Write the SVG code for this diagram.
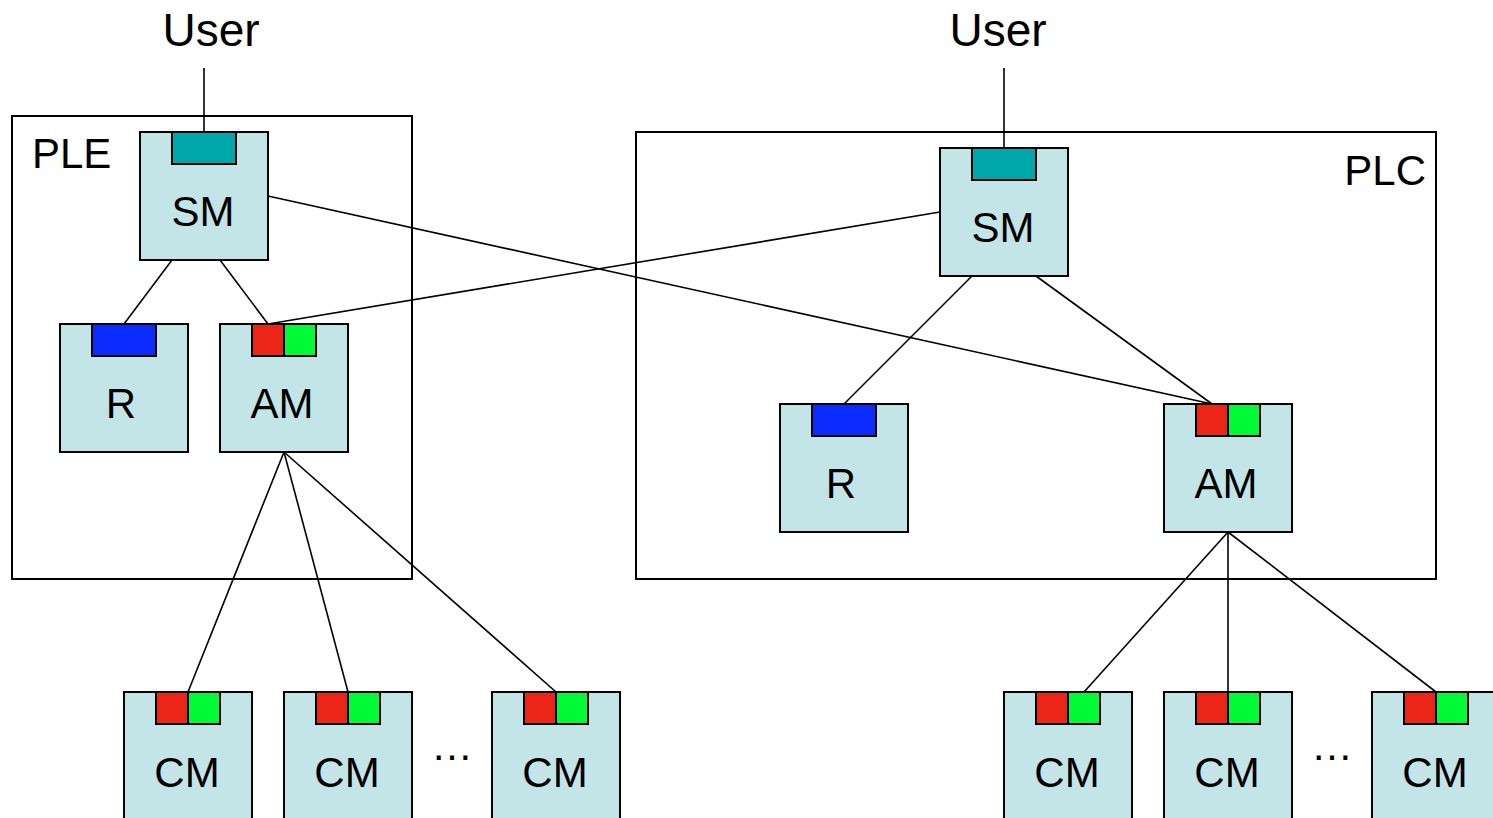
<svg xmlns="http://www.w3.org/2000/svg" width="1493" height="818" viewBox="0 0 1493 818">
<style>
.bg{fill:#ffffff}
.container{fill:none;stroke:#000;stroke-width:2}
.box{fill:#C4E5E7;stroke:#000;stroke-width:2}
.teal{fill:#00A8AA;stroke:#000;stroke-width:2}
.blue{fill:#0C2BFF;stroke:#000;stroke-width:2}
.red{fill:#EC2616;stroke:#000;stroke-width:2}
.green{fill:#00FA36;stroke:#000;stroke-width:2}
.lbl{font-family:"Liberation Sans",Arial,sans-serif;font-size:42px;fill:#000;text-anchor:middle}
.user{font-family:"Liberation Sans",Arial,sans-serif;font-size:46px;fill:#000;text-anchor:middle}
.conn line{stroke:#000;stroke-width:1.6}
</style>
<rect class="bg" x="0" y="0" width="1493" height="818"/>

<g id="PLE">
<rect class="container" x="12" y="116" width="400" height="463"/>
<text class="lbl" x="32" y="168" style="text-anchor:start">PLE</text>
</g>
<g id="PLC">
<rect class="container" x="636" y="132" width="800" height="447"/>
<text class="lbl" x="1426" y="185" style="text-anchor:end">PLC</text>
</g>

<g id="user-left"><text class="user" x="211" y="46">User</text></g>
<g id="user-right"><text class="user" x="998" y="46">User</text></g>

<g id="connectors" class="conn">
<line x1="204" y1="68" x2="204" y2="132"/>
<line x1="1004" y1="68" x2="1004" y2="148"/>
<line x1="172" y1="260" x2="124" y2="324"/>
<line x1="220" y1="260" x2="268" y2="324"/>
<line x1="268" y1="196" x2="1212" y2="404"/>
<line x1="940" y1="212" x2="268" y2="324"/>
<line x1="972" y1="276" x2="844" y2="404"/>
<line x1="1036" y1="276" x2="1212" y2="404"/>
<line x1="284" y1="452" x2="188" y2="692"/>
<line x1="284" y1="452" x2="348" y2="692"/>
<line x1="284" y1="452" x2="556" y2="692"/>
<line x1="1228" y1="532" x2="1084" y2="692"/>
<line x1="1228" y1="532" x2="1228" y2="692"/>
<line x1="1228" y1="532" x2="1436" y2="692"/>
</g>

<g id="SM-left">
<rect class="box" x="140" y="132" width="128" height="128"/>
<rect class="teal" x="172" y="132" width="64" height="32"/>
<text class="lbl" x="203" y="226">SM</text>
</g>
<g id="R-left">
<rect class="box" x="60" y="324" width="128" height="128"/>
<rect class="blue" x="92" y="324" width="64" height="32"/>
<text class="lbl" x="121" y="418">R</text>
</g>
<g id="AM-left">
<rect class="box" x="220" y="324" width="128" height="128"/>
<rect class="red" x="252" y="324" width="32" height="32"/>
<rect class="green" x="284" y="324" width="32" height="32"/>
<text class="lbl" x="282" y="418">AM</text>
</g>

<g id="SM-right">
<rect class="box" x="940" y="148" width="128" height="128"/>
<rect class="teal" x="972" y="148" width="64" height="32"/>
<text class="lbl" x="1003" y="242">SM</text>
</g>
<g id="R-right">
<rect class="box" x="780" y="404" width="128" height="128"/>
<rect class="blue" x="812" y="404" width="64" height="32"/>
<text class="lbl" x="841" y="498">R</text>
</g>
<g id="AM-right">
<rect class="box" x="1164" y="404" width="128" height="128"/>
<rect class="red" x="1196" y="404" width="32" height="32"/>
<rect class="green" x="1228" y="404" width="32" height="32"/>
<text class="lbl" x="1226" y="498">AM</text>
</g>

<g id="CM-left-1">
<rect class="box" x="124" y="692" width="128" height="130"/>
<rect class="red" x="156" y="692" width="32" height="32"/>
<rect class="green" x="188" y="692" width="32" height="32"/>
<text class="lbl" x="187" y="787">CM</text>
</g>
<g id="CM-left-2">
<rect class="box" x="284" y="692" width="128" height="130"/>
<rect class="red" x="316" y="692" width="32" height="32"/>
<rect class="green" x="348" y="692" width="32" height="32"/>
<text class="lbl" x="347" y="787">CM</text>
</g>
<g id="ellipsis-left"><text class="lbl" x="452" y="760">…</text></g>
<g id="CM-left-3">
<rect class="box" x="492" y="692" width="128" height="130"/>
<rect class="red" x="524" y="692" width="32" height="32"/>
<rect class="green" x="556" y="692" width="32" height="32"/>
<text class="lbl" x="555" y="787">CM</text>
</g>

<g id="CM-right-1">
<rect class="box" x="1004" y="692" width="128" height="130"/>
<rect class="red" x="1036" y="692" width="32" height="32"/>
<rect class="green" x="1068" y="692" width="32" height="32"/>
<text class="lbl" x="1067" y="787">CM</text>
</g>
<g id="CM-right-2">
<rect class="box" x="1164" y="692" width="128" height="130"/>
<rect class="red" x="1196" y="692" width="32" height="32"/>
<rect class="green" x="1228" y="692" width="32" height="32"/>
<text class="lbl" x="1227" y="787">CM</text>
</g>
<g id="ellipsis-right"><text class="lbl" x="1332" y="760">…</text></g>
<g id="CM-right-3">
<rect class="box" x="1372" y="692" width="128" height="130"/>
<rect class="red" x="1404" y="692" width="32" height="32"/>
<rect class="green" x="1436" y="692" width="32" height="32"/>
<text class="lbl" x="1435" y="787">CM</text>
</g>
</svg>
